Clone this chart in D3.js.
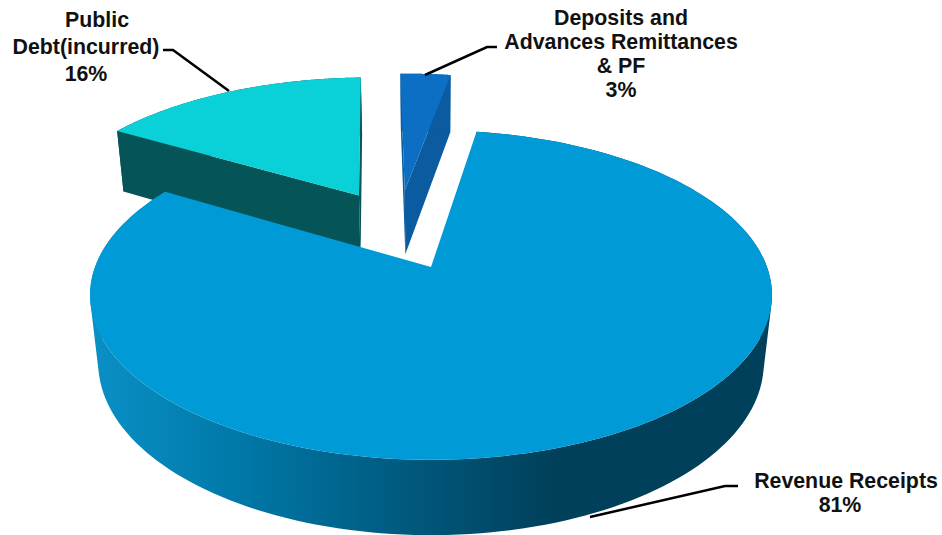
<!DOCTYPE html>
<html><head><meta charset="utf-8">
<script src="https://cdnjs.cloudflare.com/ajax/libs/d3/7.8.5/d3.min.js"></script>
<style>html,body{margin:0;padding:0;background:#fff}svg{display:block}text{font-family:"Liberation Sans",Arial,sans-serif;font-weight:700;font-size:21.33px;fill:#111;text-anchor:middle}</style>
</head><body><div id="c"></div>
<script>
const categories = ["Revenue Receipts", "Public Debt(incurred)", "Deposits and Advances Remittances & PF"];
const values = [81, 16, 3];
const labelLines = [["Revenue Receipts", "81%"], ["Public", "Debt(incurred)", "16%"], ["Deposits and", "Advances Remittances", "& PF", "3%"]];
const topColors = ["#009bd7", "#0ad0d8", "#0d6fc4"];
const wallColors = ["#00405a", "#055458", "#0a5ba0"];

const W = 942, H = 535;
const svg = d3.select("#c").append("svg").attr("width", W).attr("height", H);
const defs = svg.append("defs");
const grad = defs.append("linearGradient").attr("id", "wall").attr("gradientUnits", "userSpaceOnUse")
  .attr("x1", 90).attr("x2", 772).attr("y1", 0).attr("y2", 0);
[[0, "#0a90c6"], [0.22, "#0078a8"], [0.42, "#005f85"], [0.68, "#00405a"], [1, "#00405a"]]
  .forEach(s => grad.append("stop").attr("offset", s[0]).attr("stop-color", s[1]));

// projective view of the pie plane: u right, v towards viewer, z down
const cx = 431, cy = 267, A = 336, B = 160, D = 69, kv = -0.17, kz = 0.024;
const project = (u, v, z) => {
  const w = 1 + kv * v + kz * z;
  return [cx + A * u / w, cy + (B * v + D * z) / w];
};
const explode = [[0, 0], [-0.232, -0.483], [-0.085, -0.52]];
const start = 9.1 * Math.PI / 180;
const arcs = d3.pie().sort(null).startAngle(start).endAngle(start + 2 * Math.PI)(values);
const line = d3.line();
const rim = (a, off, z) => d3.range(0, 181).map(i => {
  const t = a.startAngle + (a.endAngle - a.startAngle) * i / 180;
  return project(off[0] + Math.sin(t), off[1] - Math.cos(t), z);
});
// every wall quad wound the same way so that the union fills without holes
const quad = (p, q, r, s) => {
  const poly = [p, q, r, s];
  if (d3.polygonArea(poly) < 0) poly.reverse();
  return line(poly) + "Z";
};
const order = [1, 2, 0];
order.forEach(i => {
  const a = arcs[i], off = explode[i];
  const apex0 = project(off[0], off[1], 0), apex1 = project(off[0], off[1], 1);
  const r0 = rim(a, off, 0), r1 = rim(a, off, 1);
  const fill = i === 0 ? "url(#wall)" : wallColors[i];
  const g = svg.append("g").attr("class", "slice");
  if (i !== 0) {
    [[r0[0], r1[0]], [r0[180], r1[180]]].forEach(e =>
      g.append("path").attr("d", quad(apex0, e[0], e[1], apex1)).attr("fill", fill));
  }
  const d = d3.range(0, 180).map(k => quad(r0[k], r0[k + 1], r1[k + 1], r1[k])).join("");
  g.append("path").attr("d", d).attr("fill", fill).attr("fill-rule", "nonzero");
  g.append("path").attr("d", line([apex0].concat(r0)) + "Z").attr("fill", topColors[i]);
});

const leaders = [[[738, 486], [725, 486], [590, 517]], [[163, 50], [173, 50], [229, 91]], [[497, 47], [487, 47], [425, 75]]];
svg.selectAll("path.leader").data(leaders).join("path").attr("class", "leader")
  .attr("d", d => line(d)).attr("fill", "none").attr("stroke", "#000").attr("stroke-width", 2.5);

const labelPos = [[[846, 488], [840, 512]], [[97, 27], [86, 54], [86, 81]], [[621, 25], [621, 49], [621, 73], [621, 97]]];
labelLines.forEach((ls, i) => ls.forEach((t, j) => {
  svg.append("text").attr("x", labelPos[i][j][0]).attr("y", labelPos[i][j][1]).text(t);
}));
</script></body></html>
